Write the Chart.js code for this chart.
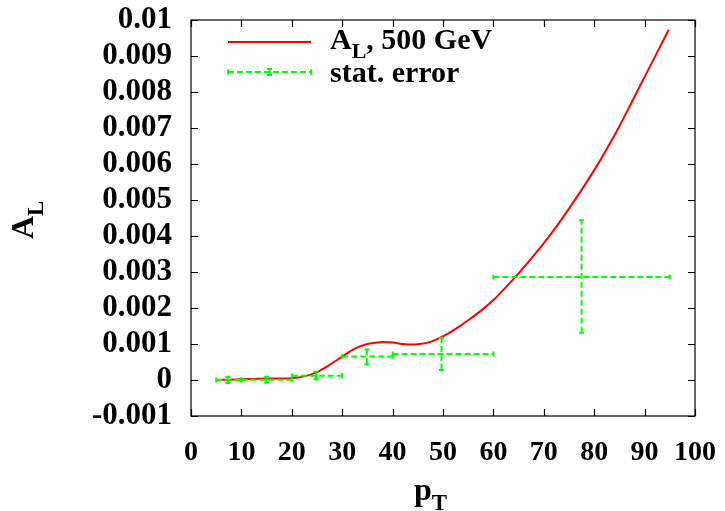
<!DOCTYPE html>
<html>
<head>
<meta charset="utf-8">
<script src="https://cdn.jsdelivr.net/npm/chart.js@4.4.1/dist/chart.umd.min.js"></script>
<style>
  html, body { margin: 0; padding: 0; background: #fff; }
  #wrap { width: 725px; height: 511px; }
</style>
</head>
<body>
<div id="wrap"><canvas id="c" width="725" height="511"></canvas></div>
<script>
// A_L curve, 500 GeV (pT in GeV)
const curvePt = [5, 7.5, 10, 12.5, 15, 17.5, 20, 22.5, 25, 27.5, 30, 32.5, 35, 37.5, 40, 42.5, 45, 47.5,
  50, 52.5, 55, 57.5, 60, 62.5, 65, 67.5, 70, 72.5, 75, 77.5, 80, 82.5, 85, 87.5, 90, 92.5, 94.8];
const curveAL = [0.00000, 0.00001, 0.00002, 0.00003, 0.00004, 0.00004, 0.00005, 0.00010, 0.00022, 0.00042,
  0.00065, 0.00087, 0.00100, 0.00105, 0.00104, 0.00099, 0.00099, 0.00106,
  0.00121, 0.00142, 0.00166, 0.00192, 0.00222, 0.00258, 0.00296, 0.00337, 0.00380, 0.00426,
  0.00476, 0.00528, 0.00583, 0.00642, 0.00705, 0.00773, 0.00842, 0.00910, 0.00973];

// stat. error bins
const binCenter = [7.3, 15, 24.8, 34.9, 49.7, 77.5];
const binLow = [5, 10, 20, 30, 40, 60];
const binHigh = [10, 20, 30, 40, 60, 95];
const binAL = [0.0, 0.00001, 0.00012, 0.00065, 0.00072, 0.00286];
const binErrLow = [-0.00008, -0.00007, 0.00002, 0.00044, 0.00028, 0.00131];
const binErrHigh = [0.00008, 0.00009, 0.00023, 0.00085, 0.00117, 0.00444];

const xTicks = [0, 10, 20, 30, 40, 50, 60, 70, 80, 90, 100];
const yTicks = [-0.001, 0, 0.001, 0.002, 0.003, 0.004, 0.005, 0.006, 0.007, 0.008, 0.009, 0.01];

const FONT = '"Liberation Serif", "Times New Roman", serif';
const RED = '#ff0000';
const GREEN = '#00ff00';

function drawSub(ctx, x, y, main, sub, size) {
  ctx.font = 'bold ' + size + 'px ' + FONT;
  ctx.fillText(main, x, y);
  const w = ctx.measureText(main).width;
  const s = Math.round(size * 0.72);
  ctx.font = 'bold ' + s + 'px ' + FONT;
  ctx.fillText(sub, x + w, y + size * 0.3);
  return x + w + ctx.measureText(sub).width;
}

function errorBar(ctx, x1, x2, xc, yc, y1, y2) {
  ctx.save();
  ctx.strokeStyle = GREEN;
  ctx.lineWidth = 2;
  ctx.setLineDash([6, 3]);
  ctx.beginPath();
  ctx.moveTo(x1, yc); ctx.lineTo(x2, yc);
  ctx.moveTo(xc, y1); ctx.lineTo(xc, y2);
  ctx.stroke();
  ctx.setLineDash([]);
  ctx.beginPath();
  ctx.moveTo(x1, yc - 2.5); ctx.lineTo(x1, yc + 2.5);
  ctx.moveTo(x2, yc - 2.5); ctx.lineTo(x2, yc + 2.5);
  ctx.moveTo(xc - 2.5, y1); ctx.lineTo(xc + 2.5, y1);
  ctx.moveTo(xc - 2.5, y2); ctx.lineTo(xc + 2.5, y2);
  ctx.stroke();
  ctx.restore();
}

// no extra room for overflowing tick labels, the frame is placed by padding
function noOverflow(s) {
  s.paddingTop = 0; s.paddingBottom = 0; s.paddingLeft = 0; s.paddingRight = 0;
}

const frame = {
  id: 'frame',
  afterDatasetsDraw(chart) {
    const { ctx, chartArea: a, scales } = chart;
    const xs = scales.x, ys = scales.y;

    // error bars
    ctx.save();
    ctx.beginPath();
    ctx.rect(a.left, a.top, a.right - a.left, a.bottom - a.top);
    ctx.clip();
    for (let i = 0; i < binCenter.length; i++) {
      errorBar(ctx,
        xs.getPixelForValue(binLow[i]), xs.getPixelForValue(binHigh[i]),
        xs.getPixelForValue(binCenter[i]), ys.getPixelForValue(binAL[i]),
        ys.getPixelForValue(binErrLow[i]), ys.getPixelForValue(binErrHigh[i]));
    }
    ctx.restore();

    // box + inward ticks
    ctx.save();
    ctx.strokeStyle = '#000';
    ctx.lineWidth = 1.2;
    ctx.strokeRect(a.left, a.top, a.right - a.left, a.bottom - a.top);
    ctx.beginPath();
    xTicks.forEach(v => {
      const px = Math.round(xs.getPixelForValue(v)) + 0.5;
      ctx.moveTo(px, a.bottom); ctx.lineTo(px, a.bottom - 7);
      ctx.moveTo(px, a.top); ctx.lineTo(px, a.top + 7);
    });
    yTicks.forEach(v => {
      const py = Math.round(ys.getPixelForValue(v)) + 0.5;
      ctx.moveTo(a.left, py); ctx.lineTo(a.left + 7, py);
      ctx.moveTo(a.right, py); ctx.lineTo(a.right - 7, py);
    });
    ctx.stroke();
    ctx.restore();

    // legend
    ctx.save();
    ctx.fillStyle = '#000';
    ctx.textBaseline = 'alphabetic';
    ctx.strokeStyle = RED;
    ctx.lineWidth = 2;
    ctx.beginPath();
    ctx.moveTo(228, 42); ctx.lineTo(311, 42);
    ctx.stroke();
    let tx = drawSub(ctx, 330, 49, 'A', 'L', 30);
    ctx.font = 'bold 30px ' + FONT;
    ctx.fillText(', 500 GeV', tx, 49);
    errorBar(ctx, 228, 311, 269.5, 72, 69, 75);
    ctx.font = 'bold 30px ' + FONT;
    ctx.fillText('stat. error', 330, 82);

    // axis titles
    ctx.save();
    ctx.translate(33, 239);
    ctx.rotate(-Math.PI / 2);
    drawSub(ctx, 0, 0, 'A', 'L', 32);
    ctx.restore();
    drawSub(ctx, 414, 500, 'p', 'T', 32);
    ctx.restore();
  }
};

const ctx = document.getElementById('c').getContext('2d');
new Chart(ctx, {
  type: 'scatter',
  data: {
    datasets: [{
      type: 'line',
      label: 'A_L, 500 GeV',
      data: curvePt.map((x, i) => ({ x, y: curveAL[i] })),
      borderColor: RED,
      borderWidth: 2,
      pointRadius: 0,
      tension: 0.3,
      fill: false
    }]
  },
  options: {
    responsive: false,
    animation: false,
    devicePixelRatio: 1,
    layout: { padding: { top: 20, right: 30, left: 0, bottom: 0 } },
    plugins: { legend: { display: false }, tooltip: { enabled: false } },
    scales: {
      x: {
        type: 'linear',
        min: 0, max: 100,
        afterFit: s => { s.height = 95; noOverflow(s); },
        afterBuildTicks: s => { s.ticks = xTicks.map(v => ({ value: v })); },
        grid: { display: false, drawTicks: false },
        border: { display: false },
        ticks: {
          color: '#000',
          padding: 20,
          maxRotation: 0,
          autoSkip: false,
          font: { family: FONT, size: 28, weight: 'bold' }
        }
      },
      y: {
        type: 'linear',
        min: -0.001, max: 0.01,
        afterFit: s => { s.width = 191; noOverflow(s); },
        afterBuildTicks: s => { s.ticks = yTicks.map(v => ({ value: v })); },
        grid: { display: false, drawTicks: false },
        border: { display: false },
        ticks: {
          color: '#000',
          padding: 19,
          autoSkip: false,
          font: { family: FONT, size: 31, weight: 'bold' },
          callback: v => String(+v.toFixed(3))
        }
      }
    }
  },
  plugins: [frame]
});
</script>
</body>
</html>
